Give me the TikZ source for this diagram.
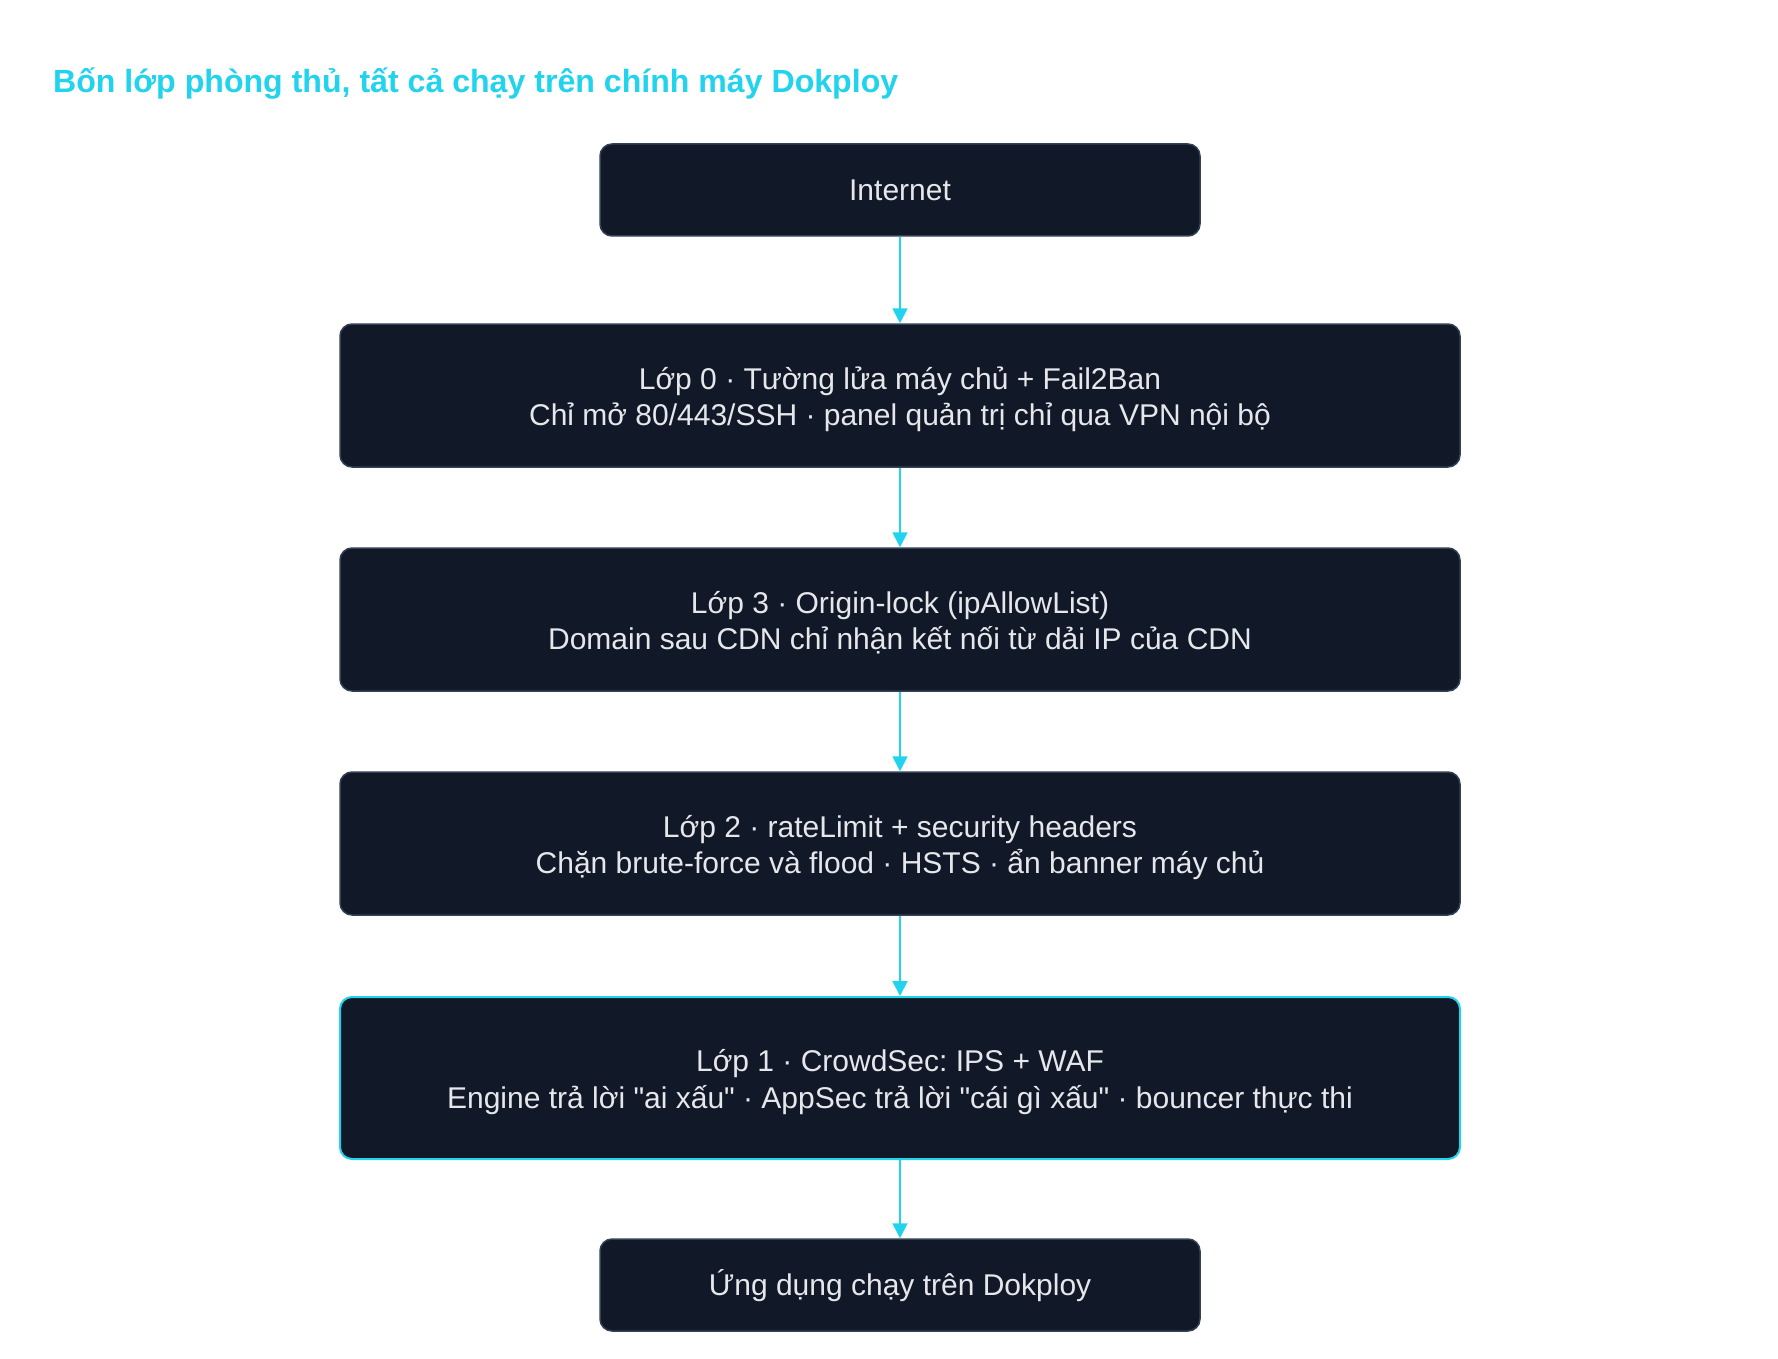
\documentclass[tikz,border=0pt]{standalone}
\usepackage{fontspec}
\setmainfont{Liberation Sans}[Ligatures=TeXOff]
\usetikzlibrary{arrows.meta}
\definecolor{boxfill}{HTML}{111827}
\definecolor{boxline}{HTML}{334155}
\definecolor{accent}{HTML}{22D3EE}
\definecolor{txt}{HTML}{E5E7EB}
\frenchspacing
\begin{document}
\begin{tikzpicture}[x=1pt,y=-1pt,
  layer/.style={draw=boxline, line width=1.5pt, fill=boxfill, rounded corners=12pt,
    text=txt, font=\fontsize{30}{36.3}\selectfont\frenchspacing, align=center, inner sep=0pt},
  small/.style={layer, minimum width=600pt, minimum height=92pt, text height=23pt, text depth=1.4pt},
  big/.style={layer, minimum width=1120pt, minimum height=143pt, text height=66pt, text depth=6pt},
  hot/.style={draw=accent, line width=2pt},
  flow/.style={draw=accent, line width=1.8pt, -{Triangle[length=15pt,width=15pt]}}]
\useasboundingbox (0,0) rectangle (1778,1359);
\fill[white] (0,0) rectangle (1778,1359);
\node[anchor=base west, text=accent, font=\fontsize{32.1}{36}\selectfont\bfseries, inner sep=0pt] (title) at (53,93) {Bốn lớp phòng thủ, tất cả chạy trên chính máy Dokploy};
\node[small] (inet) at (900,190) {Internet};
\node[big] (l0) at (900,395.5) {Lớp 0 · Tường lửa máy chủ + Fail2Ban\\Chỉ mở 80/443/SSH · panel quản trị chỉ qua VPN nội bộ};
\node[big] (l3) at (900,619.5) {Lớp 3 · Origin-lock (ipAllowList)\\Domain sau CDN chỉ nhận kết nối từ dải IP của CDN};
\node[big] (l2) at (900,843.5) {Lớp 2 · rateLimit + security headers\\Chặn brute-force và flood · HSTS · ẩn banner máy chủ};
\node[big, hot, minimum height=162pt] (l1) at (900,1078) {Lớp 1 · CrowdSec: IPS + WAF\\Engine trả lời "ai xấu" · AppSec trả lời "cái gì xấu" · bouncer thực thi};
\node[small] (app) at (900,1285) {Ứng dụng chạy trên Dokploy};
\draw[flow] (inet) -- (l0);
\draw[flow] (l0) -- (l3);
\draw[flow] (l3) -- (l2);
\draw[flow] (l2) -- (l1);
\draw[flow] (l1) -- (app);
\end{tikzpicture}
\end{document}
